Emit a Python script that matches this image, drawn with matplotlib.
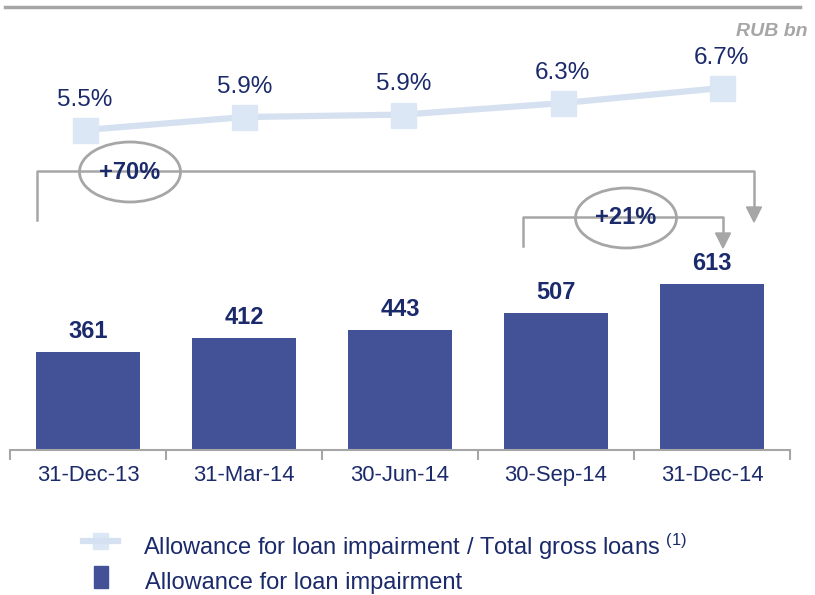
import numpy as np
import matplotlib
matplotlib.use('Agg')
import matplotlib.pyplot as plt
from matplotlib.lines import Line2D
from matplotlib.patches import Ellipse, Rectangle

plt.rcParams['font.family'] = ['Liberation Sans', 'DejaVu Sans']
plt.rcParams['mathtext.fontset'] = 'custom'
plt.rcParams['mathtext.rm'] = 'Liberation Sans'
plt.rcParams['mathtext.default'] = 'regular'

# data
dates = ['31-Dec-13', '31-Mar-14', '30-Jun-14', '30-Sep-14', '31-Dec-14']
allowance = [361, 412, 443, 507, 613]
ratio = [5.5, 5.87, 5.94, 6.27, 6.7]
ratio_labels = ['5.5%', '5.9%', '5.9%', '6.3%', '6.7%']

W, H = 815, 595
navy = '#1B2A6B'
bar_col = '#435197'
line_col = '#D5E1F0'
mark_col = '#DCE7F6'
grey = '#A6A6A6'

fig = plt.figure(figsize=(W / 100, H / 100), dpi=100)


def fx(x):
    return x / W


def fy(y):
    return 1 - y / H


def pts(*xy):
    return [(fx(x), fy(y)) for x, y in xy]


# top rule
fig.add_artist(Line2D([fx(5), fx(800)], [fy(7), fy(7)], color=grey, lw=2.5))
fig.text(fx(808), fy(31), 'RUB bn', ha='right', va='center', fontsize=14,
         fontstyle='italic', fontweight='bold', color=grey)

# bar chart
ax = fig.add_axes([fx(10), fy(450), fx(780), (450 - 230) / H])
x = np.arange(len(dates))
ax.bar(x, allowance, width=0.667, color=bar_col, zorder=2)
ax.set_xlim(-0.5, 4.5)
ax.set_ylim(0, 220 / 0.2708)
for xi, v in zip(x, allowance):
    ax.annotate(str(v), (xi, v), xytext=(0, 6.5), textcoords='offset points',
                ha='center', va='bottom', fontsize=17, fontweight='bold', color=navy)
for s in ['top', 'right', 'left']:
    ax.spines[s].set_visible(False)
ax.spines['bottom'].set_color(grey)
ax.spines['bottom'].set_linewidth(1.5)
ax.set_yticks([])
ax.set_xticks(x)
ax.set_xticklabels(dates, fontsize=15.8, color=navy)
ax.tick_params(axis='x', which='major', length=0, pad=11)
ax.set_xticks(np.arange(-0.5, 5, 1), minor=True)
ax.tick_params(axis='x', which='minor', length=7, width=1.5, color=grey)
ax.patch.set_alpha(0)

# ratio line
ax2 = fig.add_axes([fx(5.4), fy(150), fx(796), 110 / H])
ax2.plot(x, ratio, color=line_col, lw=4.5, marker='s', markersize=18,
         markerfacecolor=mark_col, markeredgecolor=mark_col, zorder=2)
ax2.set_xlim(-0.5, 4.5)
ax2.set_ylim(5.5 - 20 / 35, 6.7 + 48 / 35)
for xi, v, lab in zip(x, ratio, ratio_labels):
    ax2.annotate(lab, (xi, v), xytext=(0, 14), textcoords='offset points',
                 ha='center', va='bottom', fontsize=17.5, color=navy)
ax2.axis('off')

# growth brackets
def bracket(x0, x1, y, ybot, yarrow, cx, w, h, label):
    fig.add_artist(Line2D([fx(x0), fx(x0), fx(x1), fx(x1)],
                          [fy(ybot), fy(y), fy(y), fy(yarrow - 14)],
                          color=grey, lw=1.8))
    fig.add_artist(plt.Polygon(pts((x1 - 7.5, yarrow - 15), (x1 + 7.5, yarrow - 15), (x1, yarrow)),
                               closed=True, color=grey, transform=fig.transFigure))
    fig.add_artist(Ellipse((fx(cx), fy(y + 1)), fx(w), h / H, facecolor='white',
                           edgecolor=grey, lw=2, transform=fig.transFigure))
    fig.text(fx(cx), fy(y + 1), label, ha='center', va='center', fontsize=17,
             fontweight='bold', color=navy)


bracket(37, 754, 171, 220, 222, 130, 101, 60, '+70%')
bracket(523, 723, 217, 246, 248, 626, 101, 60, '+21%')

# legend
fig.add_artist(Line2D([fx(83), fx(118)], [fy(541), fy(541)], color=line_col, lw=4.5))
fig.add_artist(Rectangle((fx(93), fy(549)), fx(15), 16 / H, color=mark_col,
                         transform=fig.transFigure))
fig.text(fx(143), fy(547), 'Allowance for loan impairment / Total gross loans $^{(1)}$',
         ha='left', va='center', fontsize=17, color=navy)
fig.add_artist(Rectangle((fx(94), fy(588)), fx(14), 22 / H, color=bar_col,
                         transform=fig.transFigure))
fig.text(fx(145), fy(583), 'Allowance for loan impairment',
         ha='left', va='center', fontsize=17, color=navy)

fig.savefig('out.png', dpi=100)
